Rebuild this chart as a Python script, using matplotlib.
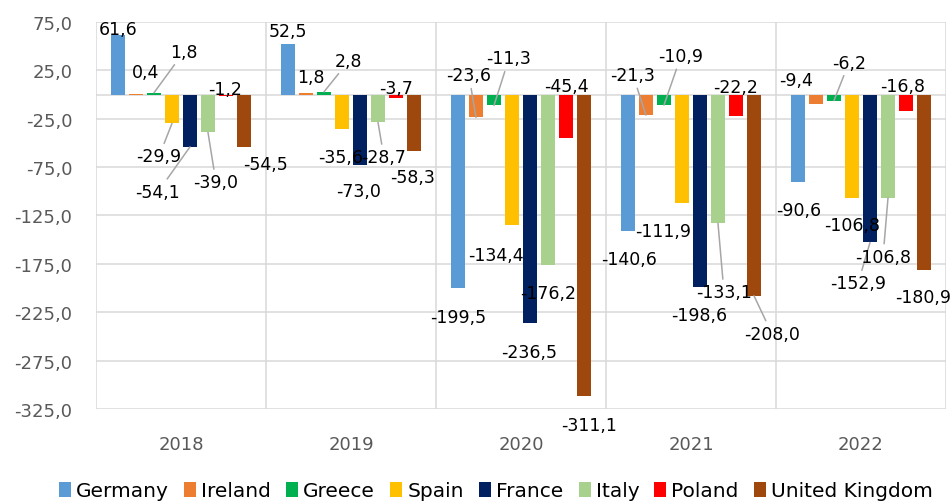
import matplotlib.pyplot as plt
import numpy as np

years = ["2018", "2019", "2020", "2021", "2022"]
countries = ["Germany", "Ireland", "Greece", "Spain", "France", "Italy", "Poland", "United Kingdom"]
colors = ["#5B9BD5", "#ED7D31", "#00B050", "#FFC000", "#002060", "#A9D18E", "#FF0000", "#9E480E"]

germany = [61.6, 52.5, -199.5, -140.6, -90.6]
ireland = [0.4, 1.8, -23.6, -21.3, -9.4]
greece = [1.8, 2.8, -11.3, -10.9, -6.2]
spain = [-29.9, -35.6, -134.4, -111.9, -106.8]
france = [-54.1, -73.0, -236.5, -198.6, -152.9]
italy = [-39.0, -28.7, -176.2, -133.1, -106.8]
poland = [-1.2, -3.7, -45.4, -22.2, -16.8]
uk = [-54.5, -58.3, -311.1, -208.0, -180.9]

series = [germany, ireland, greece, spain, france, italy, poland, uk]

# label offsets in pixels (dx, dy down) from bar end, per year, per country
label_offsets = [
    [(0, -6), (10, -22), (30, -41), (-13, 33), (-32, 45), (8, 50), (-1, -7), (22, 17)],
    [(0, -13), (5, -16), (25, -31), (-1, 28), (-1, 26), (6, 35), (0, -10), (-1, 26)],
    [(0, 29), (-7, -42), (15, -47), (-16, 30), (-1, 29), (0, 28), (0, -52), (5, 29)],
    [(1, 28), (-13, -40), (17, -49), (-19, 28), (-1, 28), (6, 69), (0, -29), (18, 38)],
    [(1, 28), (-20, -24), (15, -38), (0, 27), (-12, 41), (-5, 59), (-3, -25), (-1, 27)],
]
# which labels get a leader line (year index, country index)
leaders = {(0, 2), (0, 3), (0, 4), (0, 5), (1, 2), (1, 5), (2, 1), (2, 2),
           (3, 1), (3, 2), (3, 5), (3, 7), (4, 2), (4, 4), (4, 5)}

fig = plt.figure(figsize=(9.52, 5.02), dpi=100)
ax = fig.add_axes([0.1008, 0.1833, 0.8929, 0.7709])

x = np.arange(len(years))
step = 0.1059
width = 0.082

for k, (name, vals, col) in enumerate(zip(countries, series, colors)):
    xs = x + (k - 3.5) * step
    ax.bar(xs, vals, width, color=col, label=name, zorder=3)
    for i, v in enumerate(vals):
        dx, dy = label_offsets[i][k]
        txt = f"{v:.1f}".replace(".", ",")
        arrow = None
        if (i, k) in leaders:
            arrow = dict(arrowstyle="-", color="#A6A6A6", lw=1.1, shrinkA=1, shrinkB=0)
        ax.annotate(txt, xy=(xs[i], v), xytext=(dx, -dy), textcoords="offset pixels",
                    ha="center", va="center", fontsize=12.5, color="black",
                    arrowprops=arrow, zorder=5)

ax.set_ylim(-325, 75)
ax.set_xlim(-0.5, len(years) - 0.5)
yticks = np.arange(75, -326, -50)
ax.set_yticks(yticks)
ax.set_yticklabels([f"{t:.1f}".replace(".", ",") for t in yticks])
ax.set_xticks(x)
ax.set_xticklabels(years)
ax.set_xticks(np.arange(-0.5, len(years)), minor=True)
ax.tick_params(axis="y", length=0, pad=17, labelsize=13, labelcolor="#595959")
ax.tick_params(axis="x", which="both", length=0, pad=19, labelsize=13, labelcolor="#595959")
ax.grid(axis="y", which="major", color="#D9D9D9", lw=1.1, zorder=0)
ax.grid(axis="x", which="minor", color="#D9D9D9", lw=1.1, zorder=0)
ax.axhline(0, color="#D9D9D9", lw=1.1, zorder=1)
for s in ax.spines.values():
    s.set_visible(False)

fig.legend(loc="lower center", bbox_to_anchor=(0.521, -0.035), ncol=8, frameon=False,
           fontsize=14.5, handlelength=0.6, handleheight=0.75, handletextpad=0.25,
           columnspacing=0.75)

fig.savefig("out.png", dpi=100)
